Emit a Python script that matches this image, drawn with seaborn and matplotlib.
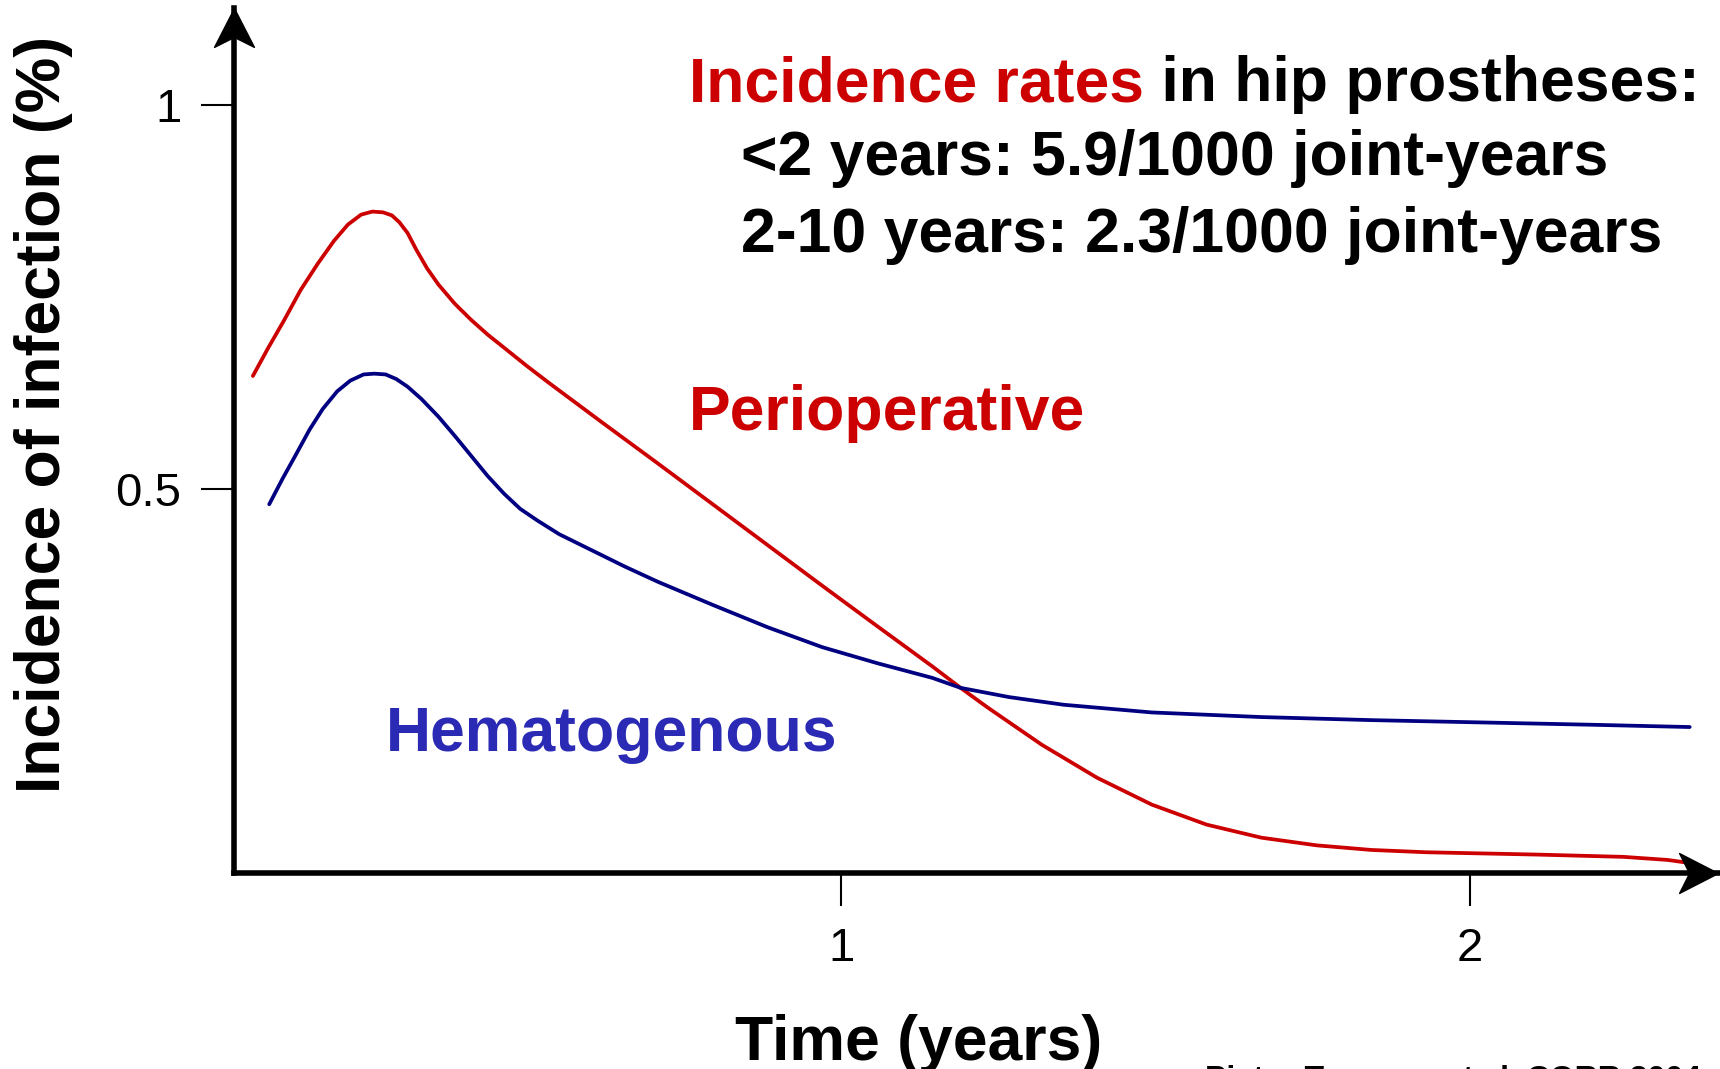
import numpy as np
import pandas as pd
import matplotlib
matplotlib.use("Agg")
import matplotlib.pyplot as plt
from matplotlib.path import Path
import seaborn as sns

# curves (time in years, incidence in %)
peri_time = [0.065, 0.089, 0.115, 0.141, 0.168, 0.194, 0.216, 0.237, 0.255, 0.272,
             0.286, 0.298, 0.311, 0.325, 0.342, 0.360, 0.386, 0.412, 0.438, 0.464,
             0.499, 0.534, 0.621, 0.709, 0.796, 0.883, 0.970, 1.058, 1.145, 1.190,
             1.232, 1.319, 1.407, 1.494, 1.581, 1.668, 1.756, 1.843, 1.930, 2.105,
             2.244, 2.314, 2.349]
peri_rate = [0.647, 0.683, 0.720, 0.759, 0.793, 0.823, 0.844, 0.857, 0.861, 0.860,
             0.856, 0.847, 0.833, 0.811, 0.787, 0.766, 0.741, 0.720, 0.701, 0.684,
             0.661, 0.639, 0.586, 0.533, 0.480, 0.427, 0.374, 0.321, 0.269, 0.241,
             0.216, 0.167, 0.124, 0.089, 0.063, 0.046, 0.036, 0.030, 0.027, 0.024,
             0.021, 0.017, 0.013]

hema_time = [0.091, 0.112, 0.133, 0.155, 0.176, 0.199, 0.220, 0.241, 0.258, 0.276,
             0.293, 0.311, 0.333, 0.360, 0.386, 0.412, 0.438, 0.464, 0.490, 0.517,
             0.552, 0.604, 0.656, 0.709, 0.796, 0.883, 0.970, 1.058, 1.145, 1.190,
             1.267, 1.354, 1.494, 1.668, 1.843, 2.018, 2.192, 2.349]
hema_rate = [0.480, 0.513, 0.544, 0.577, 0.604, 0.627, 0.641, 0.649, 0.650, 0.649,
             0.643, 0.633, 0.617, 0.594, 0.569, 0.543, 0.517, 0.494, 0.474, 0.459,
             0.441, 0.420, 0.399, 0.379, 0.349, 0.320, 0.294, 0.273, 0.254, 0.241,
             0.229, 0.219, 0.209, 0.203, 0.199, 0.196, 0.193, 0.190]

x_ticks = [1, 2]
x_ticklabels = ["1", "2"]
y_ticks = [0.5, 1]
y_ticklabels = ["0.5", "1"]

RED = "#cc0000"
NAVY = "#000080"
BLUE_TXT = "#2a2ab4"

sns.set_style("ticks")
plt.rcParams['font.family'] = ['Liberation Sans', 'DejaVu Sans']
plt.rcParams['text.color'] = 'black'

fig = plt.figure(figsize=(17.2, 10.69), dpi=100)
ax = fig.add_axes([234/1720, 1 - 873/1069, 1484/1720, 865/1069])

peri = pd.DataFrame({"t": peri_time, "r": peri_rate})
hema = pd.DataFrame({"t": hema_time, "r": hema_rate})
sns.lineplot(data=peri, x="t", y="r", color=RED, lw=2.7, ax=ax,
             solid_joinstyle="round")
sns.lineplot(data=hema, x="t", y="r", color=NAVY, lw=2.7, ax=ax,
             solid_joinstyle="round")

ax.set_xlim(0.035, 2.394)
ax.set_ylim(0, 1.126)
sns.despine(ax=ax)
for s in ["left", "bottom"]:
    ax.spines[s].set_linewidth(4)
    ax.spines[s].set_color("black")

ax.set_xticks(x_ticks)
ax.set_xticklabels(x_ticklabels)
ax.set_yticks(y_ticks)
ax.set_yticklabels(y_ticklabels)
ax.tick_params(axis="both", direction="out", length=24, width=1.5, color="black",
               labelsize=34, labelcolor="black")
ax.tick_params(axis="x", pad=15)
ax.tick_params(axis="y", pad=14)
ax.set_xlabel("")
ax.set_ylabel("")

# barbed arrow heads at the ends of the axes
head = Path([(0, 0), (-20, -39), (0, -29), (20, -39), (0, 0)],
            [Path.MOVETO, Path.LINETO, Path.LINETO, Path.LINETO, Path.CLOSEPOLY])
head_right = Path([(0, 0), (-39, 20), (-29, 0), (-39, -20), (0, 0)], head.codes)
x0, x1 = ax.get_xlim()
y0, y1 = ax.get_ylim()
ax.plot([x0], [y1], marker=head, markersize=56, color="black", clip_on=False, lw=0)
ax.plot([x1], [y0], marker=head_right, markersize=56, color="black", clip_on=False, lw=0)

bold = dict(fontsize=45, fontweight="bold")
t1 = fig.text(689/1720, 1 - 101/1069, "Incidence rates", color=RED, va="baseline", **bold)
ax.annotate(" in hip prostheses:", xy=(1, 0), xycoords=t1, va="bottom", ha="left",
            color="black", **bold)
fig.text(741/1720, 1 - 175/1069, "<2 years: 5.9/1000 joint-years", va="baseline",
         color="black", **bold)
fig.text(741/1720, 1 - 252/1069, "2-10 years: 2.3/1000 joint-years", va="baseline",
         color="black", **bold)

fig.text(689/1720, 1 - 430/1069, "Perioperative", color=RED, va="baseline", **bold)
fig.text(386/1720, 1 - 751/1069, "Hematogenous", color=BLUE_TXT, va="baseline", **bold)

fig.text(44/1720, 1 - 414/1069, "Incidence of infection (%)", rotation=90,
         ha="center", va="center", color="black", **bold)
fig.text(919/1720, 1 - 1060/1069, "Time (years)", ha="center", va="baseline",
         color="black", **bold)

fig.text(1205/1720, 1 - 1088/1069, "Pietro Trampuz et al. CORR 2004", va="baseline",
         fontsize=23, fontweight="bold", color="black")

fig.savefig("out.png", dpi=100)
